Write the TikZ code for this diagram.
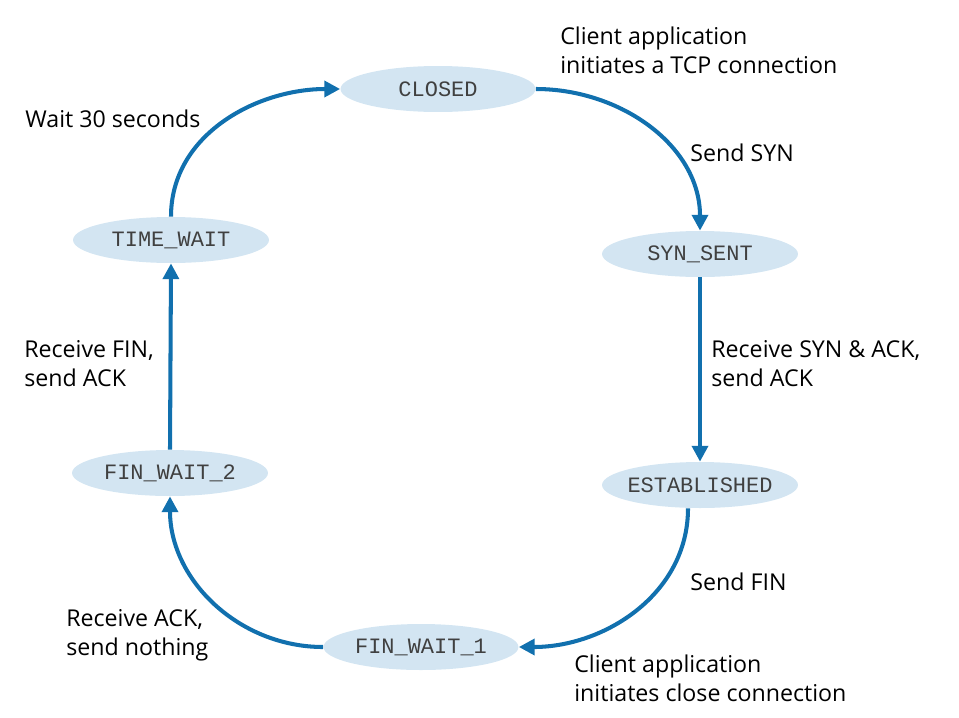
\documentclass[tikz,border=0pt]{standalone}
\usepackage{fontspec}
\setmainfont{Open Sans}
\setmonofont{Liberation Mono}
\usetikzlibrary{shapes.geometric,arrows.meta}
\definecolor{arr}{HTML}{1170AE}
\definecolor{ell}{HTML}{D3E5F2}
\begin{document}
\begin{tikzpicture}[x=0.02cm,y=-0.02cm,
  st/.style={ellipse,fill=ell,minimum height=0.92cm,inner sep=-2pt,font=\ttfamily\fontsize{12.5}{15}\selectfont,text=black!75},
  ar/.style={draw=arr,line width=2.3pt,-{Triangle[length=9pt,width=9pt]}},
  lb/.style={align=left,font=\fontsize{13.2}{16.5}\selectfont,inner sep=0pt,anchor=west}]
\useasboundingbox (0,0) rectangle (959,717);
\node[st,minimum width=3.9cm] (closed) at (438,89) {CLOSED};
\node[st,minimum width=3.92cm] (tw) at (171,240) {TIME\_WAIT};
\node[st,minimum width=3.92cm] (ss) at (700,254) {SYN\_SENT};
\node[st,minimum width=3.92cm] (est) at (700,485) {ESTABLISHED};
\node[st,minimum width=3.92cm] (fw2) at (170,473) {FIN\_WAIT\_2};
\node[st,minimum width=3.9cm] (fw1) at (421,647) {FIN\_WAIT\_1};
\draw[ar] (closed.east) to[out=0,in=90] (ss.north);
\draw[ar] (tw.north) to[out=90,in=180] (closed.west);
\draw[ar] (ss.south) -- (est.north);
\draw[ar] ([xshift=-12*0.02cm]est.south) to[out=-90,in=0] (fw1.east);
\draw[ar] (fw1.west) to[out=180,in=-90] (fw2.south);
\draw[ar] (fw2.north) -- (tw.south);
\node[lb] (l1) at (560,50) {Client application\\initiates a TCP connection};
\node[lb] (l2) at (690,153) {Send SYN};
\node[lb] (l3) at (711,364) {Receive SYN \& ACK,\\send ACK};
\node[lb] (l4) at (690,582) {Send FIN};
\node[lb] (l5) at (574,678) {Client application\\initiates close connection};
\node[lb] (l6) at (66,635) {Receive ACK,\\send nothing};
\node[lb] (l7) at (24,364) {Receive FIN,\\send ACK};
\node[lb] (l8) at (25,119) {Wait 30 seconds};
\end{tikzpicture}
\end{document}
